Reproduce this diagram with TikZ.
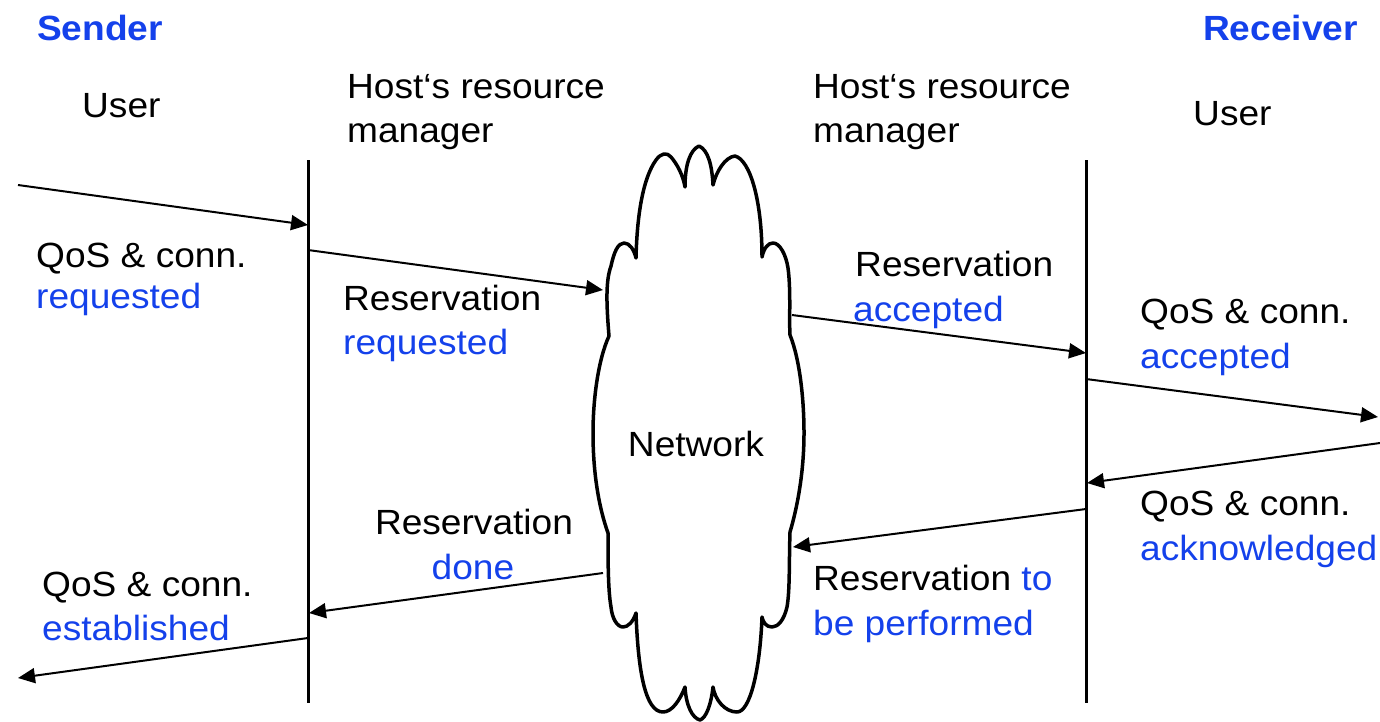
\documentclass[tikz,border=0pt]{standalone}
\usepackage{fontspec}
\setmainfont{Liberation Sans}[FakeStretch=1.06]
\usetikzlibrary{arrows.meta}
\definecolor{hiblue}{RGB}{20,65,235}
\tikzset{
  txt/.style={anchor=base west, inner sep=0pt, font=\fontsize{35}{42}\selectfont},
  blue txt/.style={txt, text=hiblue},
  role/.style={inner sep=0pt, font=\bfseries\fontsize{35}{42}\selectfont, text=hiblue, anchor=base west},
  lifeline/.style={line width=3pt},
  msg/.style={line width=2pt, -{Triangle[length=17pt,width=15pt]}},
  cloudline/.style={line width=3.5pt, line join=round},
}
\begin{document}
\begin{tikzpicture}[x=1pt,y=-1pt]
\useasboundingbox (0,0) rectangle (1380,721);

% headings
\node[role] (sender) at (37,40) {Sender};
\node[role, anchor=base east] (receiver) at (1358,40) {Receiver};
\node[txt] (userL) at (82,117) {User};
\node[txt] (hostL1) at (347,98) {Host‘s resource};
\node[txt] (hostL2) at (347,142) {manager};
\node[txt] (hostR1) at (813,98) {Host‘s resource};
\node[txt] (hostR2) at (813,142) {manager};
\node[txt] (userR) at (1193,125) {User};

% life lines of the two resource managers
\coordinate (lltop) at (308,160);
\coordinate (llbot) at (308,703);
\coordinate (lrtop) at (1086,160);
\coordinate (lrbot) at (1086,703);
\draw[lifeline] (lltop) -- (llbot);
\draw[lifeline] (lrtop) -- (lrbot);

% network cloud
\draw[cloudline, fill=white] (609,336)
  .. controls (606,300) and (606,280) .. (611,266)
  .. controls (614,252) and (618,243) .. (624,243)
  .. controls (630,243) and (634,250) .. (636,258)
  .. controls (637,215) and (643,178) .. (656,160)
  .. controls (661,153) and (667,152) .. (671,157)
  .. controls (677,164) and (683,175) .. (685,187)
  .. controls (685,165) and (690,150) .. (699,146)
  .. controls (708,150) and (712,165) .. (713,185)
  .. controls (716,172) and (725,157) .. (735,156)
  .. controls (750,160) and (762,200) .. (762,257)
  .. controls (764,248) and (768,243) .. (773,243)
  .. controls (780,243) and (786,255) .. (788,268)
  .. controls (791,290) and (789,320) .. (790,335)
  .. controls (800,360) and (804,400) .. (804,433)
  .. controls (804,470) and (798,505) .. (790,532)
  .. controls (789,560) and (790,590) .. (787,607)
  .. controls (784,620) and (778,627) .. (772,627)
  .. controls (766,627) and (763,622) .. (762,617)
  .. controls (760,670) and (750,712) .. (737,712)
  .. controls (725,712) and (715,700) .. (713,687)
  .. controls (711,705) and (706,718) .. (700,720)
  .. controls (692,718) and (686,705) .. (685,687)
  .. controls (680,700) and (672,712) .. (663,712)
  .. controls (645,712) and (638,670) .. (636,613)
  .. controls (633,622) and (628,627) .. (623,627)
  .. controls (617,627) and (612,618) .. (611,607)
  .. controls (608,590) and (608,560) .. (608,533)
  .. controls (598,505) and (593,470) .. (593,433)
  .. controls (593,400) and (598,360) .. (609,336) -- cycle;
\node[txt, anchor=base] (net) at (696,456) {Network};

% message end points
\coordinate (m1s) at (18,185);   \coordinate (m1e) at (308,225);
\coordinate (m2s) at (308,250);  \coordinate (m2e) at (603,290);
\coordinate (m3s) at (792,315);  \coordinate (m3e) at (1086,353);
\coordinate (m4s) at (1086,379); \coordinate (m4e) at (1378,417);
\coordinate (m5s) at (1380,443); \coordinate (m5e) at (1087,483);
\coordinate (m6s) at (1086,509); \coordinate (m6e) at (793,547);
\coordinate (m7s) at (603,573);  \coordinate (m7e) at (309,613);
\coordinate (m8s) at (308,638);  \coordinate (m8e) at (18,678);

\draw[msg] (m1s) -- (m1e);
\draw[msg] (m2s) -- (m2e);
\draw[msg] (m3s) -- (m3e);
\draw[msg] (m4s) -- (m4e);
\draw[msg] (m5s) -- (m5e);
\draw[msg] (m6s) -- (m6e);
\draw[msg] (m7s) -- (m7e);
\draw[msg] (m8s) -- (m8e);

% message labels
\node[txt] (l1a) at (36,267) {QoS \& conn.};
\node[blue txt] (l1b) at (36,308) {requested};
\node[txt] (l2a) at (343,310) {Reservation};
\node[blue txt] (l2b) at (343,354) {requested};
\node[txt] (l3a) at (855,276) {Reservation};
\node[blue txt] (l3b) at (853,321) {accepted};
\node[txt] (l4a) at (1140,323) {QoS \& conn.};
\node[blue txt] (l4b) at (1140,368) {accepted};
\node[txt] (l5a) at (1140,515) {QoS \& conn.};
\node[blue txt] (l5b) at (1140,560) {acknowledged};
\node[txt, anchor=base] (l6a) at (474,534) {Reservation};
\node[blue txt, anchor=base] (l6b) at (473,579) {done};
\node[txt] (l7a) at (813,590) {Reservation \textcolor{hiblue}{to}};
\node[blue txt] (l7b) at (813,635) {be performed};
\node[txt] (l8a) at (42,596) {QoS \& conn.};
\node[blue txt] (l8b) at (42,640) {established};
\end{tikzpicture}
\end{document}
